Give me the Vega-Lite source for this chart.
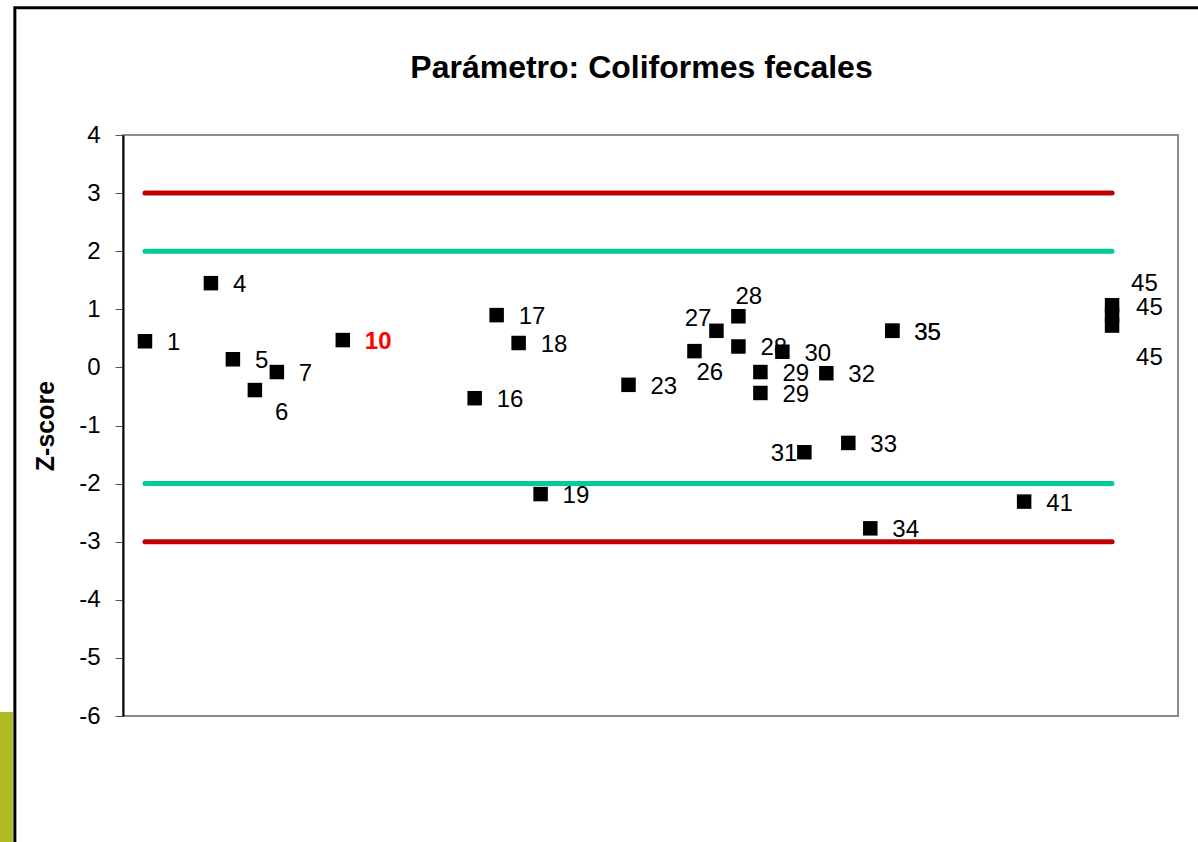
{
  "$schema": "https://vega.github.io/schema/vega-lite/v6.json",
  "width": 1055,
  "height": 581,
  "autosize": {"type": "none"},
  "padding": {"left": 123, "top": 135, "right": 20, "bottom": 126},
  "background": "white",
  "config": {
    "view": {"stroke": "#8c8c8c", "strokeWidth": 2},
    "font": "Liberation Sans",
    "axis": {"grid": false},
    "text": {"font": "Liberation Sans", "fontSize": 24, "color": "black", "baseline": "middle", "align": "left"}
  },
  "title": {
    "text": "Parámetro: Coliformes fecales",
    "fontSize": 32,
    "fontWeight": "bold",
    "font": "Liberation Sans",
    "color": "black",
    "offset": -79,
    "dx": -9,
    "anchor": "middle"
  },
  "datasets": {
    "pts": [
      {"lab": 1, "z": 0.45},
      {"lab": 4, "z": 1.45},
      {"lab": 5, "z": 0.14},
      {"lab": 6, "z": -0.39},
      {"lab": 7, "z": -0.08},
      {"lab": 10, "z": 0.47},
      {"lab": 16, "z": -0.53},
      {"lab": 17, "z": 0.9},
      {"lab": 18, "z": 0.42},
      {"lab": 19, "z": -2.18},
      {"lab": 23, "z": -0.3},
      {"lab": 26, "z": 0.28},
      {"lab": 27, "z": 0.63},
      {"lab": 28, "z": 0.88},
      {"lab": 28, "z": 0.36},
      {"lab": 29, "z": -0.08},
      {"lab": 29, "z": -0.44},
      {"lab": 30, "z": 0.27},
      {"lab": 31, "z": -1.46},
      {"lab": 32, "z": -0.1},
      {"lab": 33, "z": -1.3},
      {"lab": 34, "z": -2.77},
      {"lab": 35, "z": 0.63},
      {"lab": 35, "z": 0.63},
      {"lab": 41, "z": -2.31},
      {"lab": 45, "z": 1.07},
      {"lab": 45, "z": 0.9},
      {"lab": 45, "z": 0.72}
    ],
    "limits": [
      {"lab": 1, "z": 3, "kind": "acción", "grp": "a1"},
      {"lab": 45, "z": 3, "kind": "acción", "grp": "a1"},
      {"lab": 1, "z": -3, "kind": "acción", "grp": "a2"},
      {"lab": 45, "z": -3, "kind": "acción", "grp": "a2"},
      {"lab": 1, "z": 2, "kind": "alerta", "grp": "w1"},
      {"lab": 45, "z": 2, "kind": "alerta", "grp": "w1"},
      {"lab": 1, "z": -2, "kind": "alerta", "grp": "w2"},
      {"lab": 45, "z": -2, "kind": "alerta", "grp": "w2"}
    ]
  },
  "layer": [
    {
      "data": {"values": [{"k": 1}]},
      "mark": {"type": "rect", "filled": false, "stroke": "black", "strokeWidth": 3, "clip": false},
      "encoding": {
        "x": {"datum": -4.92, "type": "quantitative", "scale": {"domain": [0, 48], "nice": false, "zero": false}, "axis": null},
        "x2": {"datum": 60},
        "y": {
          "datum": 6.19,
          "type": "quantitative",
          "scale": {"domain": [-6, 4], "nice": false, "zero": false},
          "axis": {
            "title": "Z-score",
            "values": [-6, -5, -4, -3, -2, -1, 0, 1, 2, 3, 4],
            "labelExpr": "'' + datum.value",
            "domainColor": "black",
            "domainWidth": 2,
            "tickColor": "#555555",
            "tickSize": 8,
            "tickWidth": 1,
            "labelFontSize": 24,
            "labelColor": "black",
            "labelFont": "Liberation Sans",
            "labelPadding": 15,
            "titleFontSize": 25,
            "titleFontWeight": "bold",
            "titleFont": "Liberation Sans",
            "titleColor": "black",
            "titlePadding": 20
          }
        },
        "y2": {"datum": -20}
      }
    },
    {
      "data": {"values": [{"k": 1}]},
      "mark": {"type": "rect", "fill": "#afbb21", "clip": false},
      "encoding": {
        "x": {"datum": -5.7, "type": "quantitative"},
        "x2": {"datum": -5.01},
        "y": {"datum": -5.93, "type": "quantitative"},
        "y2": {"datum": -9}
      }
    },
    {
      "data": {"name": "limits"},
      "mark": {"type": "line", "strokeWidth": 5, "strokeCap": "round"},
      "encoding": {
        "x": {"field": "lab", "type": "quantitative"},
        "y": {"field": "z", "type": "quantitative"},
        "color": {"field": "kind", "type": "nominal", "scale": {"domain": ["acción", "alerta"], "range": ["#c00000", "#00cc99"]}, "legend": null},
        "detail": {"field": "grp"}
      }
    },
    {
      "data": {"name": "pts"},
      "mark": {"type": "square", "size": 210, "color": "black", "filled": true, "opacity": 1},
      "encoding": {
        "x": {"field": "lab", "type": "quantitative"},
        "y": {"field": "z", "type": "quantitative"}
      }
    },
    {
      "data": {"name": "pts"},
      "transform": [{"filter": "datum.lab != 6 && datum.lab != 10 && datum.lab != 26 && datum.lab != 27 && !(datum.lab == 28 && datum.z > 0.6) && datum.lab != 31 && datum.lab != 45"}],
      "mark": {"type": "text", "dx": 22, "dy": 2},
      "encoding": {"x": {"field": "lab", "type": "quantitative"}, "y": {"field": "z", "type": "quantitative"}, "text": {"field": "lab", "type": "nominal"}}
    },
    {
      "data": {"name": "pts"},
      "transform": [{"filter": "datum.lab == 10"}],
      "mark": {"type": "text", "dx": 22, "dy": 2, "fontWeight": "bold", "color": "#ff0000"},
      "encoding": {"x": {"field": "lab", "type": "quantitative"}, "y": {"field": "z", "type": "quantitative"}, "text": {"field": "lab", "type": "nominal"}}
    },
    {
      "data": {"name": "pts"},
      "transform": [{"filter": "datum.lab == 6"}],
      "mark": {"type": "text", "dx": 20, "dy": 23},
      "encoding": {"x": {"field": "lab", "type": "quantitative"}, "y": {"field": "z", "type": "quantitative"}, "text": {"field": "lab", "type": "nominal"}}
    },
    {
      "data": {"name": "pts"},
      "transform": [{"filter": "datum.lab == 26"}],
      "mark": {"type": "text", "dx": 2, "dy": 22},
      "encoding": {"x": {"field": "lab", "type": "quantitative"}, "y": {"field": "z", "type": "quantitative"}, "text": {"field": "lab", "type": "nominal"}}
    },
    {
      "data": {"name": "pts"},
      "transform": [{"filter": "datum.lab == 27"}],
      "mark": {"type": "text", "align": "right", "dx": -5, "dy": -12},
      "encoding": {"x": {"field": "lab", "type": "quantitative"}, "y": {"field": "z", "type": "quantitative"}, "text": {"field": "lab", "type": "nominal"}}
    },
    {
      "data": {"name": "pts"},
      "transform": [{"filter": "datum.lab == 28 && datum.z > 0.6"}],
      "mark": {"type": "text", "dx": -3, "dy": -19},
      "encoding": {"x": {"field": "lab", "type": "quantitative"}, "y": {"field": "z", "type": "quantitative"}, "text": {"field": "lab", "type": "nominal"}}
    },
    {
      "data": {"name": "pts"},
      "transform": [{"filter": "datum.lab == 31"}],
      "mark": {"type": "text", "align": "right", "dx": -7, "dy": 2},
      "encoding": {"x": {"field": "lab", "type": "quantitative"}, "y": {"field": "z", "type": "quantitative"}, "text": {"field": "lab", "type": "nominal"}}
    },
    {
      "data": {"name": "pts"},
      "transform": [{"filter": "datum.lab == 45 && datum.z > 1"}],
      "mark": {"type": "text", "dx": 19, "dy": -21},
      "encoding": {"x": {"field": "lab", "type": "quantitative"}, "y": {"field": "z", "type": "quantitative"}, "text": {"field": "lab", "type": "nominal"}}
    },
    {
      "data": {"name": "pts"},
      "transform": [{"filter": "datum.lab == 45 && datum.z > 0.8 && datum.z < 1"}],
      "mark": {"type": "text", "dx": 24, "dy": -7},
      "encoding": {"x": {"field": "lab", "type": "quantitative"}, "y": {"field": "z", "type": "quantitative"}, "text": {"field": "lab", "type": "nominal"}}
    },
    {
      "data": {"name": "pts"},
      "transform": [{"filter": "datum.lab == 45 && datum.z < 0.8"}],
      "mark": {"type": "text", "dx": 24, "dy": 32},
      "encoding": {"x": {"field": "lab", "type": "quantitative"}, "y": {"field": "z", "type": "quantitative"}, "text": {"field": "lab", "type": "nominal"}}
    }
  ]
}
